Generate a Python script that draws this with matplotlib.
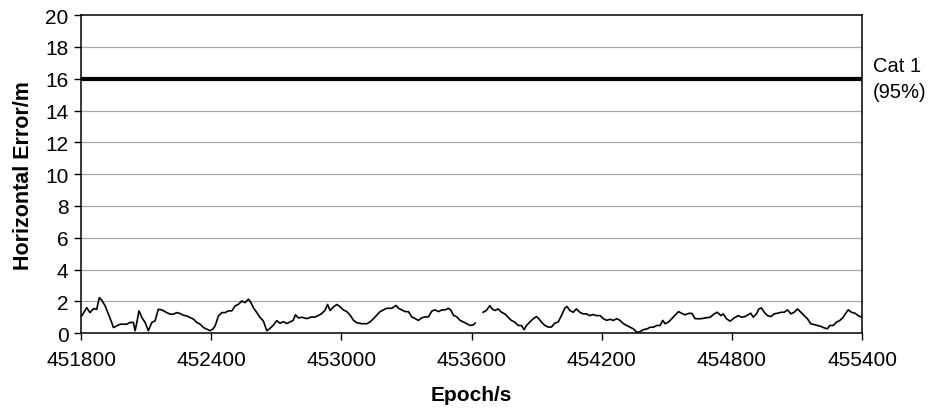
import numpy as np
import matplotlib
matplotlib.use("Agg")
import matplotlib.pyplot as plt

plt.rcParams['font.family'] = ['Liberation Sans', 'DejaVu Sans']

# first segment (before data gap)
epoch_a = [451803, 451826, 451841, 451857, 451872, 451884, 451895, 451911, 451926, 451941,
           451949, 451965, 451980, 451995, 452011, 452026, 452041, 452049, 452057, 452067,
           452080, 452095, 452110, 452126, 452141, 452156, 452172, 452195, 452210, 452226,
           452241, 452256, 452272, 452287, 452302, 452318, 452333, 452349, 452364, 452379,
           452395, 452407, 452418, 452433, 452449, 452464, 452479, 452495, 452510, 452525,
           452541, 452556, 452571, 452579, 452594, 452610, 452625, 452640, 452656, 452671,
           452686, 452702, 452717, 452733, 452748, 452763, 452777, 452788, 452802, 452817,
           452840, 452863, 452877, 452893, 452908, 452925, 452936, 452948, 452963, 452979,
           452994, 453009, 453025, 453040, 453056, 453071, 453094, 453117, 453132, 453148,
           453163, 453178, 453194, 453209, 453232, 453252, 453263, 453278, 453294, 453309,
           453324, 453340, 453355, 453370, 453386, 453401, 453417, 453432, 453447, 453463,
           453478, 453493, 453504, 453516, 453532, 453547, 453562, 453578, 453593, 453609,
           453616]
err_a = [1.08, 1.60, 1.29, 1.54, 1.50, 2.23, 2.08, 1.71, 1.19, 0.67,
         0.35, 0.46, 0.56, 0.56, 0.56, 0.67, 0.67, 0.15, 0.67, 1.40,
         0.98, 0.67, 0.15, 0.67, 0.77, 1.50, 1.46, 1.29, 1.19, 1.19,
         1.29, 1.23, 1.12, 1.08, 0.98, 0.88, 0.67, 0.56, 0.35, 0.25,
         0.15, 0.25, 0.46, 1.08, 1.29, 1.29, 1.40, 1.40, 1.71, 1.81,
         2.02, 1.92, 2.13, 2.02, 1.60, 1.29, 0.98, 0.77, 0.15, 0.30,
         0.50, 0.78, 0.62, 0.72, 0.60, 0.70, 0.79, 1.15, 0.95, 1.00,
         0.91, 1.02, 1.00, 1.10, 1.21, 1.45, 1.80, 1.42, 1.65, 1.80,
         1.65, 1.46, 1.35, 1.13, 0.80, 0.65, 0.59, 0.59, 0.70, 0.91,
         1.13, 1.35, 1.46, 1.56, 1.56, 1.74, 1.56, 1.46, 1.35, 1.35,
         1.02, 0.91, 0.80, 0.96, 1.02, 1.02, 1.39, 1.46, 1.35, 1.46,
         1.46, 1.56, 1.46, 1.13, 1.02, 0.80, 0.70, 0.59, 0.48, 0.52,
         0.63]

# second segment (after data gap)
epoch_b = [453653, 453668, 453684, 453695, 453707, 453722, 453738, 453753, 453768, 453784,
           453799, 453815, 453830, 453842, 453853, 453868, 453884, 453899, 453910, 453922,
           453938, 453953, 453968, 453984, 453999, 454014, 454030, 454040, 454053, 454068,
           454083, 454099, 454114, 454129, 454145, 454160, 454175, 454192, 454207, 454223,
           454238, 454254, 454269, 454284, 454300, 454315, 454331, 454346, 454362, 454377,
           454392, 454408, 454423, 454438, 454454, 454469, 454481, 454492, 454508, 454523,
           454538, 454554, 454569, 454584, 454600, 454615, 454630, 454646, 454661, 454676,
           454700, 454718, 454733, 454749, 454760, 454775, 454792, 454810, 454829, 454845,
           454860, 454887, 454898, 454913, 454924, 454936, 454949, 454964, 454980, 454995,
           455010, 455026, 455041, 455056, 455072, 455087, 455102, 455118, 455133, 455148,
           455164, 455179, 455194, 455210, 455225, 455240, 455251, 455267, 455282, 455297,
           455313, 455328, 455336, 455351, 455367, 455382, 455397]
err_b = [1.31, 1.42, 1.73, 1.52, 1.42, 1.52, 1.31, 1.21, 1.00, 0.79,
         0.69, 0.48, 0.48, 0.21, 0.48, 0.69, 0.90, 1.04, 0.90, 0.69,
         0.48, 0.38, 0.38, 0.63, 0.69, 1.10, 1.58, 1.67, 1.42, 1.31,
         1.52, 1.31, 1.21, 1.21, 1.10, 1.17, 1.10, 1.10, 0.91, 0.80,
         0.87, 0.80, 0.91, 0.80, 0.59, 0.48, 0.37, 0.26, 0.05, 0.09,
         0.22, 0.26, 0.37, 0.37, 0.48, 0.48, 0.80, 0.59, 0.70, 0.91,
         1.13, 1.35, 1.24, 1.15, 1.24, 1.24, 0.91, 0.90, 0.91, 0.95,
         1.00, 1.21, 1.31, 1.10, 1.21, 0.90, 0.75, 0.95, 1.10, 1.00,
         1.04, 1.25, 1.00, 1.21, 1.52, 1.58, 1.31, 1.10, 1.04, 1.21,
         1.25, 1.31, 1.31, 1.46, 1.21, 1.31, 1.52, 1.31, 1.10, 0.90,
         0.58, 0.54, 0.48, 0.42, 0.33, 0.27, 0.48, 0.48, 0.69, 0.79,
         1.00, 1.31, 1.46, 1.31, 1.25, 1.10, 1.00]

cat1_limit = 16
cat1_label = "Cat 1\n(95%)"
x_ticks = [451800, 452400, 453000, 453600, 454200, 454800, 455400]
y_ticks = list(range(0, 21, 2))

fig = plt.figure(figsize=(9.32, 4.14), dpi=100)
ax = fig.add_axes([0.087, 0.193, 0.838, 0.768])

for y in y_ticks[1:-1]:
    ax.axhline(y, color='#a8a8a8', lw=0.9, zorder=0)

ax.plot(epoch_a, err_a, color='black', lw=1.2)
ax.plot(epoch_b, err_b, color='black', lw=1.2)
ax.axhline(cat1_limit, color='black', lw=3)

ax.set_xlim(x_ticks[0], x_ticks[-1])
ax.set_ylim(0, 20)
ax.set_xticks(x_ticks)
ax.set_yticks(y_ticks)
ax.tick_params(labelsize=15, length=5, width=1, pad=7)
ax.tick_params(axis='y', pad=4)
for s in ax.spines.values():
    s.set_linewidth(1.1)

ax.set_xlabel("Epoch/s", fontsize=15, fontweight='bold', labelpad=12)
ax.set_ylabel("Horizontal Error/m", fontsize=15.5, fontweight='bold', labelpad=8)

ax.text(1.014, 0.8, cat1_label, transform=ax.transAxes, fontsize=14.5,
        va='center', ha='left', linespacing=1.45)

fig.savefig("out.png", dpi=100)
